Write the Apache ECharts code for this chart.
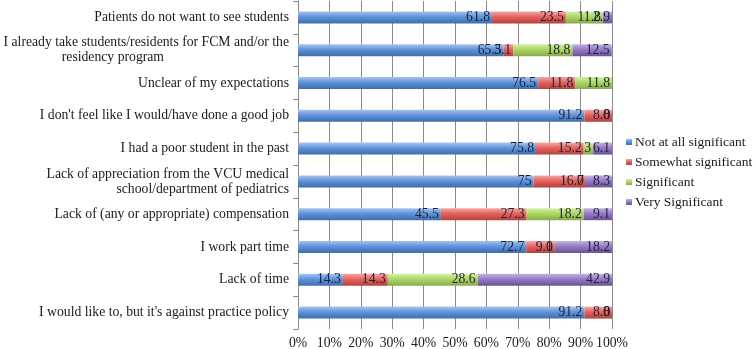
<!DOCTYPE html>
<html>
<head>
<meta charset="utf-8">
<script src="https://cdn.jsdelivr.net/npm/echarts@6/dist/echarts.min.js"></script>
<style>
  html, body { margin: 0; padding: 0; background: #fff; }
  #chart { width: 754px; height: 349px; }
</style>
</head>
<body>
<div id="chart"></div>
<script>
var categories = [
  'Patients do not want to see students',
  'I already take students/residents for FCM and/or the\nresidency program',
  'Unclear of my expectations',
  "I don't feel like I would/have done a good job",
  'I had a poor student in the past',
  'Lack of appreciation from the VCU medical\nschool/department of pediatrics',
  'Lack of (any or appropriate) compensation',
  'I work part time',
  'Lack of time',
  "I would like to, but it's against practice policy"
]
var notAtAll = [61.8, 65.5, 76.5, 91.2, 75.8, 75, 45.5, 72.7, 14.3, 91.2]
var somewhat = [23.5, 3.1, 11.8, 8.8, 15.2, 16.7, 27.3, 9.1, 14.3, 8.8]
var significant = [11.8, 18.8, 11.8, 0, 3, 0, 18.2, 0, 28.6, 0]
var verySignificant = [2.9, 12.5, 0, 0, 6.1, 8.3, 9.1, 18.2, 42.9, 0]

var FONT = 'Liberation Serif'
var FS = 13.7

function grad (top, mid, bottom) {
  return new echarts.graphic.LinearGradient(0, 0, 0, 1, [
    { offset: 0, color: top },
    { offset: 0.45, color: mid },
    { offset: 1, color: bottom }
  ])
}

function makeSeries (name, data, colors) {
  return {
    name: name,
    type: 'bar',
    stack: 'total',
    barWidth: 12,
    data: data,
    itemStyle: {
      color: grad(colors[0], colors[1], colors[2])
    },
    label: {
      show: true,
      position: 'insideRight',
      distance: 2,
      color: '#1c2238',
      fontFamily: FONT,
      fontSize: FS
    }
  }
}

var chart = echarts.init(document.getElementById('chart'))

chart.setOption({
  animation: false,
  color: ['#4f81bd', '#c0504d', '#9bbb59', '#8064a2'],
  legend: {
    orient: 'vertical',
    left: 621,
    top: 130,
    icon: 'rect',
    itemWidth: 6,
    itemHeight: 6,
    itemGap: 6,
    textStyle: {
      fontFamily: FONT,
      fontSize: 13.5,
      color: '#1a1a1a',
      padding: [0, 0, 0, -2]
    },
    data: ['Not at all significant', 'Somewhat significant', 'Significant', 'Very Significant']
  },
  grid: {
    left: 298,
    right: 142,
    top: 1,
    bottom: 20,
    containLabel: false,
    outerBoundsMode: 'none'
  },
  xAxis: {
    type: 'value',
    min: 0,
    max: 100,
    interval: 10,
    axisLine: { show: false },
    axisTick: { show: false },
    splitLine: { lineStyle: { color: '#8a8a8a', width: 1 } },
    axisLabel: {
      formatter: '{value}%',
      margin: 7,
      fontFamily: FONT,
      fontSize: FS,
      color: '#1a1a1a'
    }
  },
  yAxis: {
    type: 'category',
    inverse: true,
    data: categories,
    axisLine: { show: true, lineStyle: { color: '#8a8a8a' } },
    axisTick: { show: true, length: 5, lineStyle: { color: '#8a8a8a' } },
    axisLabel: {
      margin: 9,
      fontFamily: FONT,
      fontSize: FS,
      color: '#1a1a1a',
      lineHeight: 15,
      formatter: function (v) {
        var parts = v.split('\n')
        if (parts.length === 1) return v
        if (parts[1] === 'residency program') {
          return '{a|' + parts[0] + '}\n{a|' + parts[1] + '}{s|}'
        }
        return '{a|' + parts[0] + '}\n{a|' + parts[1] + '}'
      },
      rich: {
        a: { fontFamily: FONT, fontSize: FS, color: '#1a1a1a', lineHeight: 15 },
        s: { width: 125, height: 1 }
      }
    }
  },
  series: [
    makeSeries('Not at all significant', notAtAll, ['#a9c5ee', '#5f92d8', '#3f6db0']),
    makeSeries('Somewhat significant', somewhat, ['#f3aaa6', '#e3635e', '#b8403c']),
    makeSeries('Significant', significant, ['#d6efa6', '#acd664', '#88ac4a']),
    makeSeries('Very Significant', verySignificant, ['#c6b5e2', '#957ac4', '#6c5296'])
  ]
})
</script>
</body>
</html>
